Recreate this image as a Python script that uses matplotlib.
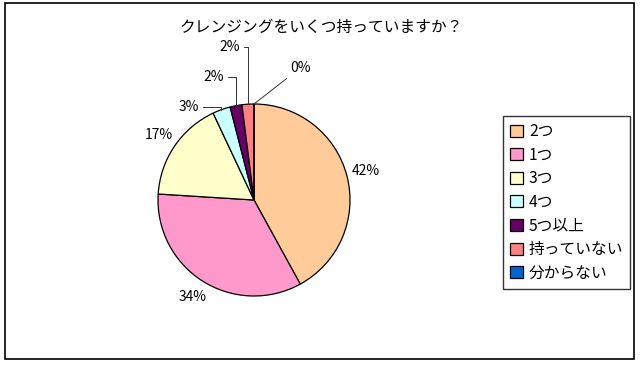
import matplotlib.pyplot as plt
import numpy as np
from matplotlib.patches import Rectangle

plt.rcParams['font.family'] = ['Noto Sans CJK JP', 'DejaVu Sans']

title = "クレンジングをいくつ持っていますか？"
categories = ["2つ", "1つ", "3つ", "4つ", "5つ以上", "持っていない", "分からない"]
shares = [42, 34, 17, 3, 2, 2, 0]
colors = ["#FFCC99", "#FF99CC", "#FFFFCC", "#CCFFFF", "#660066", "#FF8080", "#0066CC"]

# label placement: plain labels sit on a circle, small slices get leader lines (offsets in points)
plain_radius = 1.2
leader_offsets = {3: (-16, 2), 4: (-9, 21), 5: (-6, 41), 6: (26, 26)}

W, H = 640, 367
fig = plt.figure(figsize=(W / 100, H / 100), dpi=100)
fig.patch.set_facecolor("white")

# outer frame
fig.add_artist(Rectangle((5 / W, 1 - 359 / H), 629 / W, 356 / H, transform=fig.transFigure,
                         fill=False, edgecolor="black", linewidth=1.2))

fig.text(321 / W, 1 - 27 / H, title, ha="center", va="center", fontsize=11.3)

cx, cy, r = 254, 200, 96
ax = fig.add_axes([(cx - r) / W, (H - cy - r) / H, 2 * r / W, 2 * r / H])
wedges, _ = ax.pie(shares, colors=colors, startangle=90, counterclock=False, radius=1,
                   wedgeprops=dict(edgecolor="black", linewidth=0.9))
ax.set_xlim(-1, 1)
ax.set_ylim(-1, 1)

for i, w in enumerate(wedges):
    mid = np.deg2rad((w.theta1 + w.theta2) / 2)
    txt = f"{shares[i]:.0f}%"
    if i in leader_offsets:
        dx, dy = leader_offsets[i]
        ha = "right" if dx < 0 else "left"
        style = "angle,angleA=0,angleB=90,rad=0" if dx < 0 else "arc3"
        ax.annotate(txt, xy=(np.cos(mid), np.sin(mid)), xytext=(dx, dy),
                    textcoords="offset points", ha=ha, va="center", fontsize=10,
                    annotation_clip=False,
                    arrowprops=dict(arrowstyle="-", color="#333333", lw=0.7,
                                    connectionstyle=style, shrinkA=1, shrinkB=0))
    else:
        ax.text(plain_radius * np.cos(mid), plain_radius * np.sin(mid), txt,
                ha="center", va="center", fontsize=10)

# legend
leg = fig.legend(wedges, categories, loc="upper left",
                 bbox_to_anchor=(503 / W, 1 - 116 / H), frameon=True, fancybox=False,
                 fontsize=11.3, handlelength=0.8, handleheight=0.8, handletextpad=0.4,
                 labelspacing=0.42, borderpad=0.45, borderaxespad=0)
leg.get_frame().set_edgecolor("black")
leg.get_frame().set_linewidth(1.0)

fig.savefig("out.png", dpi=100, facecolor="white")
